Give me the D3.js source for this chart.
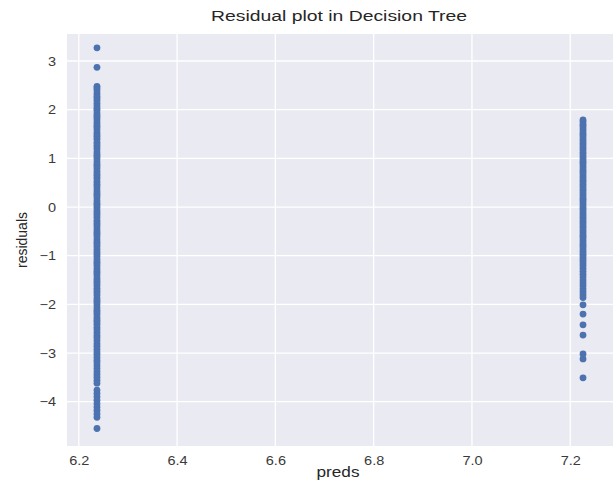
<!DOCTYPE html>
<html>
<head>
<meta charset="utf-8">
<script src="https://cdn.jsdelivr.net/npm/d3@7"></script>
<style>
  body { margin: 0; background: #fff; }
  text { font-family: "Liberation Sans", Arial, sans-serif; }
</style>
</head>
<body>
<svg id="chart"></svg>
<script>
// predicted values (the tree has two leaves)
var preds = [6.237, 7.226];

// residuals for the 6.23 leaf
var residLow = [3.27, 2.87,
  2.48, 2.44, 2.39, 2.33, 2.28, 2.24, 2.19, 2.13, 2.08, 2.03, 1.99, 1.93, 1.88, 1.84, 1.79, 1.73,
  1.68, 1.64, 1.59, 1.53, 1.48, 1.44, 1.39, 1.33, 1.28, 1.24, 1.19, 1.13, 1.08, 1.04, 0.99, 0.93,
  0.88, 0.84, 0.79, 0.73, 0.68, 0.64, 0.59, 0.53, 0.48, 0.44, 0.39, 0.33, 0.28, 0.24, 0.19, 0.13,
  0.08, 0.04, -0.01, -0.07, -0.12, -0.16, -0.21, -0.27, -0.32, -0.36, -0.41, -0.47, -0.52, -0.56,
  -0.61, -0.67, -0.72, -0.76, -0.81, -0.87, -0.92, -0.96, -1.01, -1.07, -1.12, -1.16, -1.21, -1.27,
  -1.32, -1.36, -1.41, -1.47, -1.52, -1.56, -1.61, -1.67, -1.72, -1.76, -1.81, -1.87, -1.92, -1.96,
  -2.01, -2.07, -2.12, -2.16, -2.21, -2.27, -2.32, -2.36, -2.41, -2.47, -2.52, -2.58, -2.64, -2.69,
  -2.75, -2.81, -2.86, -2.92, -2.98, -3.03, -3.09, -3.15, -3.2, -3.26, -3.32, -3.38, -3.44, -3.5,
  -3.56, -3.62, -3.76, -3.83, -3.9, -3.97, -4.04, -4.11, -4.18, -4.25, -4.32, -4.55];

// residuals for the 7.23 leaf
var residHigh = [1.79, 1.75, 1.7, 1.66, 1.61, 1.56, 1.51, 1.47, 1.42, 1.37, 1.32, 1.28, 1.23, 1.18,
  1.13, 1.09, 1.04, 0.99, 0.94, 0.9, 0.85, 0.8, 0.75, 0.71, 0.66, 0.61, 0.56, 0.52, 0.47, 0.42,
  0.37, 0.33, 0.28, 0.23, 0.18, 0.14, 0.09, 0.04, -0.01, -0.05, -0.1, -0.15, -0.2, -0.24, -0.29,
  -0.34, -0.39, -0.43, -0.48, -0.53, -0.58, -0.62, -0.67, -0.72, -0.77, -0.81, -0.86, -0.91, -0.96,
  -1.0, -1.05, -1.1, -1.15, -1.2, -1.26, -1.32, -1.38, -1.44, -1.5, -1.56, -1.62, -1.68, -1.74,
  -1.8, -1.86, -2.01, -2.2, -2.42, -2.63, -3.02, -3.12, -3.51];

var xTicks = [6.2, 6.4, 6.6, 6.8, 7.0, 7.2];
var yTicks = [-4, -3, -2, -1, 0, 1, 2, 3];

var screen = {width: 613, height: 486};
var plot = {left: 67, top: 34, right: 613, bottom: 446};

var svg = d3.select("#chart")
    .attr("width", screen.width)
    .attr("height", screen.height);

var xScale = d3.scaleLinear()
    .domain([6.176, 7.287])
    .range([plot.left, plot.right]);

var yScale = d3.scaleLinear()
    .domain([-4.91, 3.555])
    .range([plot.bottom, plot.top]);

// background
svg.append("rect")
    .attr("x", plot.left)
    .attr("y", plot.top)
    .attr("width", plot.right - plot.left)
    .attr("height", plot.bottom - plot.top)
    .attr("fill", "#eaeaf2");

// grid
var grid = svg.append("g");
grid.selectAll(".vx").data(xTicks).enter().append("line")
    .attr("x1", function(d){ return xScale(d); })
    .attr("x2", function(d){ return xScale(d); })
    .attr("y1", plot.top).attr("y2", plot.bottom)
    .attr("stroke", "#fff").attr("stroke-width", 1.3);
grid.selectAll(".hy").data(yTicks).enter().append("line")
    .attr("y1", function(d){ return yScale(d); })
    .attr("y2", function(d){ return yScale(d); })
    .attr("x1", plot.left).attr("x2", plot.right)
    .attr("stroke", "#fff").attr("stroke-width", 1.3);

// points
var points = [];
residLow.forEach(function(r){ points.push({x: preds[0], y: r}); });
residHigh.forEach(function(r){ points.push({x: preds[1], y: r}); });

svg.append("g").selectAll("circle")
    .data(points)
    .enter().append("circle")
    .attr("cx", function(d){ return xScale(d.x); })
    .attr("cy", function(d){ return yScale(d.y); })
    .attr("r", 3.4)
    .attr("fill", "#4c72b0");

// axes (labels only, seaborn darkgrid has no tick marks)
var xAxis = d3.axisBottom(xScale)
    .tickValues(xTicks)
    .tickFormat(d3.format(".1f"))
    .tickSize(0)
    .tickPadding(10);
var gx = svg.append("g")
    .attr("transform", "translate(0," + plot.bottom + ")")
    .call(xAxis);

var yAxis = d3.axisLeft(yScale)
    .tickValues(yTicks)
    .tickFormat(function(d){ return d < 0 ? "\u2212" + Math.abs(d) : d; })
    .tickSize(0)
    .tickPadding(11);
var gy = svg.append("g")
    .attr("transform", "translate(" + plot.left + ",0)")
    .call(yAxis);

// the source picture is a bit stretched sideways, so widen the tick text
[gx, gy].forEach(function(g){
    g.select(".domain").remove();
    g.selectAll("text")
        .attr("fill", "#3a3a3a")
        .style("font-size", "12.5px")
        .style("font-family", "'Liberation Sans', Arial, sans-serif")
        .each(function(){
            var w = this.getComputedTextLength();
            d3.select(this)
                .attr("textLength", w * 1.16)
                .attr("lengthAdjust", "spacingAndGlyphs");
        });
});

// labels
svg.append("text")
    .text("Residual plot in Decision Tree")
    .attr("x", 339)
    .attr("y", 21)
    .attr("text-anchor", "middle")
    .attr("textLength", 256)
    .attr("lengthAdjust", "spacingAndGlyphs")
    .attr("fill", "#262626")
    .style("font-size", "14px");

svg.append("text")
    .text("preds")
    .attr("x", 338)
    .attr("y", 477)
    .attr("text-anchor", "middle")
    .attr("textLength", 43)
    .attr("lengthAdjust", "spacingAndGlyphs")
    .attr("fill", "#262626")
    .style("font-size", "14px");

svg.append("g")
    .attr("transform", "translate(27,240)")
    .append("text")
    .text("residuals")
    .attr("text-anchor", "middle")
    .attr("transform", "rotate(-90)")
    .attr("fill", "#262626")
    .style("font-size", "14px");
</script>
</body>
</html>
